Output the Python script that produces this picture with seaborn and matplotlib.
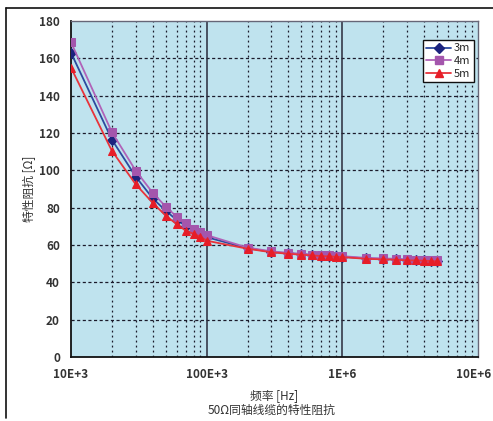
import numpy as np
import pandas as pd
import matplotlib
matplotlib.use("Agg")
import matplotlib.pyplot as plt
import matplotlib.transforms as mtransforms
from matplotlib.lines import Line2D
import seaborn as sns

# frequencies [Hz]
freq = [1e4, 2e4, 3e4, 4e4, 5e4, 6e4, 7e4, 8e4, 9e4, 1e5,
        2e5, 3e5, 4e5, 5e5, 6e5, 7e5, 8e5, 9e5, 1e6,
        1.5e6, 2e6, 2.5e6, 3e6, 3.5e6, 4e6, 4.5e6, 5e6]

z_3m = [163.0, 116.5, 96.6, 85.0, 78.3, 73.5, 70.2, 67.6, 65.8, 64.2,
        58.3, 56.3, 55.5, 55.0, 54.6, 54.3, 54.1, 53.9, 53.7,
        52.8, 52.5, 52.3, 52.0, 51.9, 51.8, 51.6, 51.4]
z_4m = [168.6, 120.5, 99.8, 88.0, 80.5, 75.2, 71.6, 68.6, 66.8, 65.3,
        58.6, 56.6, 55.8, 55.3, 54.9, 54.6, 54.4, 54.2, 54.0,
        53.1, 52.8, 52.6, 52.3, 52.2, 52.1, 51.9, 51.7]
z_5m = [155.0, 110.5, 92.5, 82.6, 75.7, 71.2, 67.7, 66.0, 64.5, 62.3,
        58.0, 56.1, 55.3, 54.8, 54.4, 54.1, 53.9, 53.7, 53.5,
        52.6, 52.3, 52.1, 51.8, 51.7, 51.6, 51.4, 51.2]

series_names = ["3m", "4m", "5m"]
x_ticks = [1e4, 1e5, 1e6, 1e7]
x_tick_labels = ["10E+3", "100E+3", "1E+6", "10E+6"]

df = pd.DataFrame({
    "freq": freq * 3,
    "z": z_3m + z_4m + z_5m,
    "cable": [n for n in series_names for _ in freq],
})

sns.set_style("white")
plt.rcParams["font.family"] = ["Noto Sans CJK SC", "DejaVu Sans"]

fig = plt.figure(figsize=(4.93, 4.21), dpi=100)
ax = fig.add_axes([71 / 493, 64 / 421, 407 / 493, 336 / 421])
ax.set_facecolor("#bfe3ee")

line_cols = {"3m": "#2c4a9e", "4m": "#b062b8", "5m": "#e8333a"}
mark_cols = {"3m": "#1c237e", "4m": "#a456ac", "5m": "#e61e28"}
markers = {"3m": "D", "4m": "s", "5m": "^"}
msizes = {"3m": 5, "4m": 6, "5m": 6}

# grid first, under the data
for dec in [1e4, 1e5, 1e6]:
    for k in range(2, 10):
        ax.axvline(dec * k, color="#1a1a2a", lw=0.9, ls=(0, (1.5, 2.5)), zorder=1)
for yv in range(20, 180, 20):
    ax.axhline(yv, color="#1a1a2a", lw=0.9, ls=(0, (2.5, 2)), zorder=1)
for xv in [1e5, 1e6]:
    ax.axvline(xv, color="#2a2a3a", lw=1.1, zorder=1)

for name in series_names:
    sub = df[df["cable"] == name]
    sns.lineplot(data=sub, x="freq", y="z", ax=ax, color=line_cols[name],
                 lw=1.3, marker=markers[name], markersize=msizes[name],
                 markerfacecolor=mark_cols[name], markeredgecolor=mark_cols[name],
                 zorder=3, legend=False)

ax.set_xscale("log")
ax.set_xlim(1e4, 1e7)
ax.set_ylim(0, 180)
ax.set_xticks(x_ticks)
ax.set_xticklabels(x_tick_labels)
ax.set_yticks(range(0, 181, 20))
ax.minorticks_off()
ax.tick_params(axis="both", length=0, labelsize=8.5, colors="#333333")
ax.tick_params(axis="x", pad=8)
ax.tick_params(axis="y", pad=8)
for lab in ax.get_xticklabels() + ax.get_yticklabels():
    lab.set_fontweight("bold")
# last x label sits against the right edge: nudge it inwards a little
last = ax.get_xticklabels()[-1]
last.set_transform(last.get_transform() +
                   mtransforms.ScaledTranslation(-4 / 100, 0, fig.dpi_scale_trans))

ax.set_xlabel("频率 [Hz]", fontsize=8.5, color="#333333", labelpad=6)
ax.set_ylabel("特性阻抗 [Ω]", fontsize=8.5, color="#333333", labelpad=2)

for side in ["left", "bottom"]:
    ax.spines[side].set_color("#111111")
    ax.spines[side].set_linewidth(1.3)
for side in ["top", "right"]:
    ax.spines[side].set_color("#666677")
    ax.spines[side].set_linewidth(1.0)

handles = [Line2D([0], [0], color=line_cols[n], lw=1.3, marker=markers[n],
                  markersize=msizes[n], markerfacecolor=mark_cols[n],
                  markeredgecolor=mark_cols[n]) for n in series_names]
leg = ax.legend(handles, series_names, loc="upper right",
                bbox_to_anchor=(0.99, 0.943), fontsize=8, frameon=True,
                fancybox=False, handlelength=2.2, handletextpad=0.3,
                borderpad=0.3, labelspacing=0.25, borderaxespad=0)
leg.get_frame().set_edgecolor("#111111")
leg.get_frame().set_linewidth(1.0)
leg.get_frame().set_facecolor("white")
leg.get_frame().set_alpha(1)

fig.text(272 / 493, 1 - 410 / 421, "50Ω同轴线缆的特性阻抗", ha="center",
         va="center", fontsize=8.5, color="#333333")

# outer frame lines (top and left)
fig.add_artist(Line2D([6 / 493, 1], [1 - 8 / 421, 1 - 8 / 421],
                      color="#111111", lw=1.2))
fig.add_artist(Line2D([6 / 493, 6 / 493], [1 - 8 / 421, 1 - 418 / 421],
                      color="#111111", lw=1.2))

fig.savefig("out.png", dpi=100)
